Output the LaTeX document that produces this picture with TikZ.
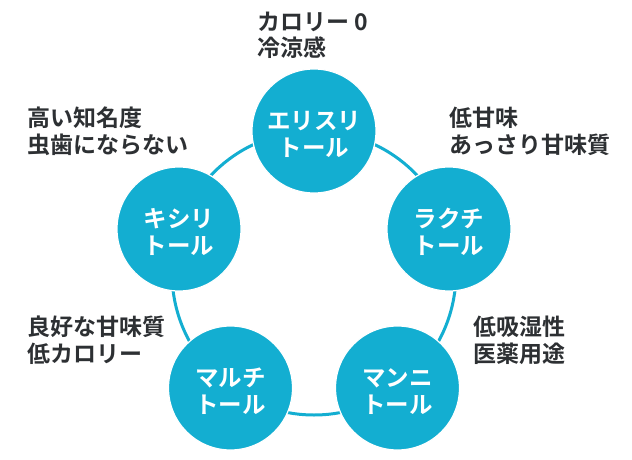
\documentclass[tikz,border=0pt]{standalone}
\usepackage{fontspec}
\setmainfont{Noto Sans CJK JP}[BoldFont={Noto Sans CJK JP Bold}]
\definecolor{ringblue}{RGB}{19,174,209}
\definecolor{labelgray}{RGB}{45,48,51}
\newcommand{\lowerstrut}{\rule{0pt}{25pt}}
\begin{document}
\begin{tikzpicture}[x=1pt,y=-1pt,
  sugar/.style={circle,fill=ringblue,draw=white,line width=1.2pt,minimum size=124pt,inner sep=0pt,
    text=white,font=\fontsize{23.5}{27}\selectfont\bfseries,align=center},
  note/.style={anchor=base west,inner sep=0pt,text=labelgray,align=left,
    font=\fontsize{23}{27}\selectfont\bfseries},
  ring/.style={draw=ringblue,line width=3pt}]
\useasboundingbox (0,0) rectangle (632,460);
\coordinate (c) at (314,273);
\draw[ring] (c) circle[radius=142];
\node[sugar] (ery) at (314,131) {\lowerstrut エリスリ\\トール};
\node[sugar] (lac) at (449,229) {\lowerstrut ラクチ\\トール};
\node[sugar] (man) at (397.5,388) {\lowerstrut マンニ\\トール};
\node[sugar] (mal) at (230.5,388) {\lowerstrut マルチ\\トール};
\node[sugar] (xyl) at (179,229) {\lowerstrut キシリ\\トール};
\node[note] (nery) at (257,57) {カロリー 0\\冷涼感};
\node[note] (nlac) at (449,153) {低甘味\\あっさり甘味質};
\node[note] (nman) at (473,362) {低吸湿性\\医薬用途};
\node[note] (nmal) at (27,362) {良好な甘味質\\低カロリー};
\node[note] (nxyl) at (27,153) {高い知名度\\虫歯にならない};
\end{tikzpicture}
\end{document}
